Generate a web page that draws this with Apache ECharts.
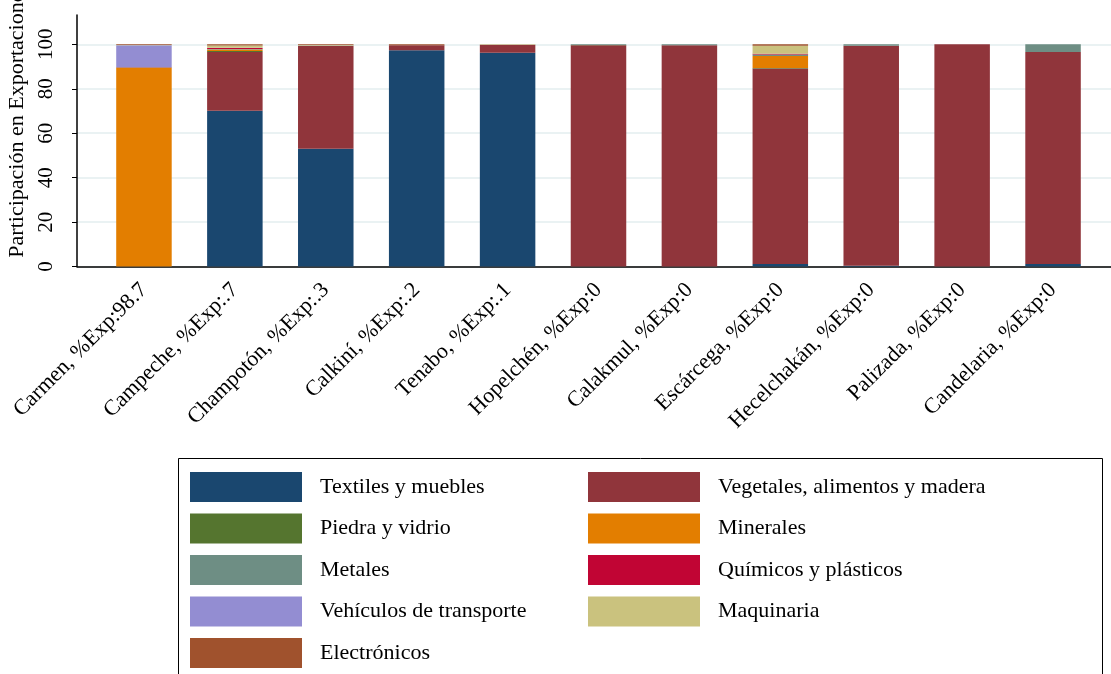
<!DOCTYPE html>
<html>
<head>
<meta charset="utf-8">
<script src="https://cdn.jsdelivr.net/npm/echarts@6/dist/echarts.min.js"></script>
<style>
html,body{margin:0;padding:0;background:#fff;}
#chart{width:1111px;height:674px;}
</style>
</head>
<body>
<div id="chart"></div>
<script>
const categories = ['Carmen, %Exp:98.7','Campeche, %Exp:.7','Champotón, %Exp:.3','Calkiní, %Exp:.2','Tenabo, %Exp:.1','Hopelchén, %Exp:0','Calakmul, %Exp:0','Escárcega, %Exp:0','Hecelchakán, %Exp:0','Palizada, %Exp:0','Candelaria, %Exp:0'];
const seriesNames = ['Textiles y muebles','Vegetales, alimentos y madera','Piedra y vidrio','Minerales','Metales','Químicos y plásticos','Vehículos de transporte','Maquinaria','Electrónicos'];
const textiles     = [0,    70.1, 53.0, 97.3, 96.2, 0,    0,    1.2,  0.4,  0,   1.2];
const vegetales    = [0.1,  26.4, 46.4, 2.3,  3.6,  99.6, 99.6, 87.9, 99.0, 100, 95.3];
const piedra       = [0,    0.5,  0,    0,    0,    0.1,  0,    0.2,  0,    0,   0];
const minerales    = [89.4, 0.7,  0,    0,    0,    0,    0,    5.5,  0,    0,   0];
const metales      = [0.2,  0.2,  0.1,  0,    0,    0.3,  0.4,  0.6,  0.6,  0,   3.5];
const quimicos     = [0.1,  0.5,  0,    0,    0,    0,    0,    0.4,  0,    0,   0];
const vehiculos    = [9.8,  0.1,  0,    0,    0,    0,    0,    0,    0,    0,   0];
const maquinaria   = [0.1,  1.0,  0.2,  0,    0.2,  0,    0,    3.6,  0,    0,   0];
const electronicos = [0.3,  0.5,  0.3,  0.4,  0,    0,    0,    0.6,  0,    0,   0];
const yTicks = [0, 20, 40, 60, 80, 100];
const yMax = 113.2;

const seriesData = [textiles, vegetales, piedra, minerales, metales, quimicos, vehiculos, maquinaria, electronicos];
const colors = ['#1a476f','#90353b','#55752f','#e37e00','#6e8e84','#c10534','#938dd2','#cac27e','#a0522d'];
const FONT = 'Liberation Serif';

const chart = echarts.init(document.getElementById('chart'), null, {renderer:'canvas'});
const gridTop = 15, gridBottom = 674 - 266.6;

function legendBlock(names, left, top) {
  return {
    orient: 'vertical', left: left, top: top, padding: 0, height: 300,
    itemWidth: 112, itemHeight: 30, itemGap: 11.5,
    icon: 'rect', selectedMode: false,
    textStyle: {fontFamily: FONT, fontSize: 22, color: '#000', padding: [6, 0, 0, 13]},
    data: names
  };
}

const option = {
  animation: false,
  color: colors,
  textStyle: {fontFamily: FONT},
  grid: [
    {left: 98.5, right: 12.5, top: gridTop, bottom: gridBottom, outerBoundsMode: 'none', containLabel: false},
    {left: 77, right: 0, top: gridTop, bottom: gridBottom, outerBoundsMode: 'none', containLabel: false}
  ],
  xAxis: [
    {
      type: 'category', gridIndex: 0, data: categories,
      axisLine: {show: false}, axisTick: {show: false},
      axisLabel: {rotate: 45, interval: 0, margin: 20, fontFamily: FONT, fontSize: 22, color: '#000'}
    },
    {
      type: 'value', gridIndex: 1, min: 0, max: 1,
      axisLine: {show: true, onZero: false, lineStyle: {color: '#000', width: 1.5}},
      axisTick: {show: false}, axisLabel: {show: false}, splitLine: {show: false}
    }
  ],
  yAxis: [
    {type: 'value', gridIndex: 0, min: 0, max: yMax, show: false, splitLine: {show: false}},
    {
      type: 'value', gridIndex: 1, min: 0, max: yMax, interval: 20,
      name: 'Participación en Exportaciones', nameLocation: 'middle', nameGap: 40, nameRotate: 90,
      nameTextStyle: {fontFamily: FONT, fontSize: 22, color: '#000', padding: [0, 0, 0, 40]},
      axisLine: {show: true, lineStyle: {color: '#000', width: 1.5}},
      axisTick: {show: true, length: 5, lineStyle: {color: '#000'}, customValues: yTicks},
      axisLabel: {rotate: 90, margin: 20, fontFamily: FONT, fontSize: 21, color: '#000', customValues: yTicks},
      splitLine: {show: true, lineStyle: {color: ['#eaf2f3','#eaf2f3','#eaf2f3','#eaf2f3','#eaf2f3','#eaf2f3','rgba(0,0,0,0)'], width: 2}}
    }
  ],
  legend: [
    legendBlock([seriesNames[0], seriesNames[2], seriesNames[4], seriesNames[6], seriesNames[8]], 190, 472),
    legendBlock([seriesNames[1], seriesNames[3], seriesNames[5], seriesNames[7]], 588, 472)
  ],
  graphic: [
    {type: 'rect', shape: {x: 178.5, y: 458.5, width: 924, height: 260}, style: {fill: 'none', stroke: '#000', lineWidth: 1}, silent: true}
  ],
  series: seriesNames.map((n, i) => ({
    name: n, type: 'bar', stack: 'total', xAxisIndex: 0, yAxisIndex: 0,
    barWidth: 55.5, data: seriesData[i], itemStyle: {color: colors[i]}
  }))
};
chart.setOption(option);
</script>
</body>
</html>
